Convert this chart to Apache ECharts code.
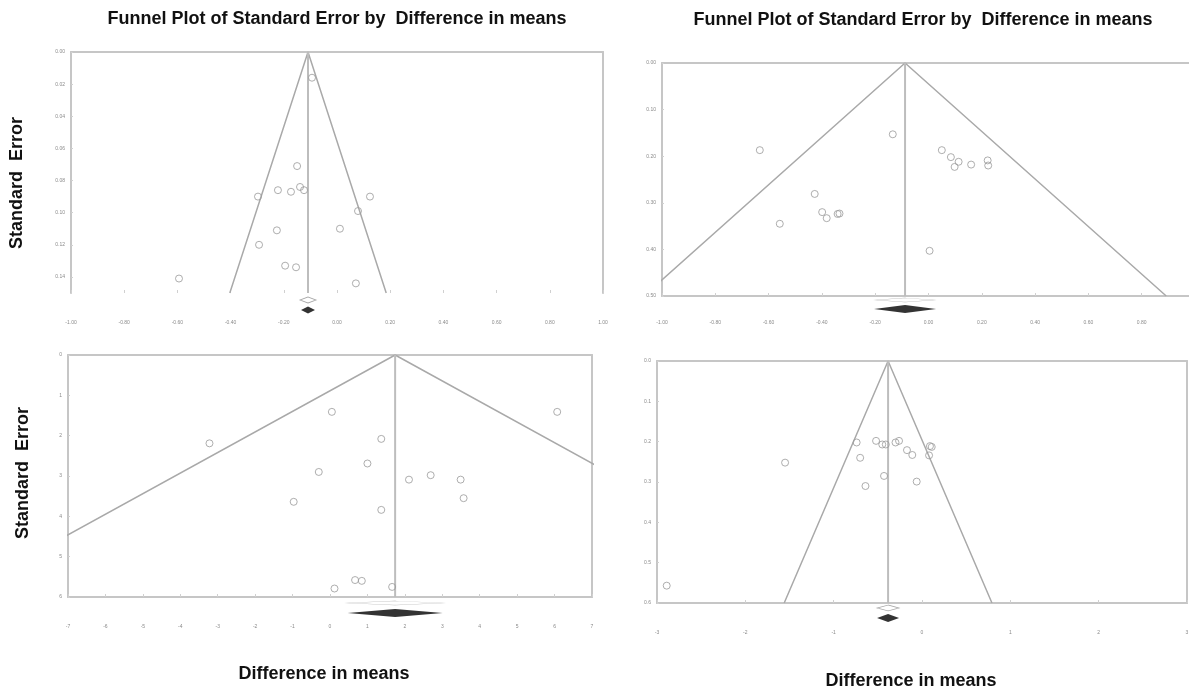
<!DOCTYPE html>
<html>
<head>
<meta charset="utf-8">
<title>Funnel plots</title>
<script src="https://cdn.jsdelivr.net/npm/echarts@6/dist/echarts.min.js"></script>
<style>
    html, body { margin: 0; padding: 0; background: #fff; }
    #chart { width: 1189px; height: 687px; }
</style>
</head>
<body>
<div id="chart"></div>
<script>
var titleText = 'Funnel Plot of Standard Error by  Difference in means';
var yTitle = 'Standard  Error';
var xTitle = 'Difference in means';

// top left
var diffA = [-0.094, -0.150, -0.222, -0.173, -0.139, -0.124, -0.297, 0.124, 0.079, 0.011, -0.226, -0.293, -0.195, -0.154, -0.594, 0.071];
var seA = [0.016, 0.071, 0.086, 0.087, 0.084, 0.086, 0.090, 0.090, 0.099, 0.110, 0.111, 0.120, 0.133, 0.134, 0.141, 0.144];
var pooledA = -0.109;
var xTicksA = [-1, 1, 0.2];
var seTicksA = [0, 0.15, 0.02];

// top right
var diffB = [-0.633, -0.134, 0.050, 0.084, 0.113, 0.098, 0.160, 0.222, 0.224, -0.427, -0.399, -0.382, -0.334, -0.341, -0.558, 0.004];
var seB = [0.187, 0.153, 0.187, 0.202, 0.212, 0.223, 0.218, 0.209, 0.220, 0.281, 0.320, 0.333, 0.323, 0.324, 0.345, 0.403];
var pooledB = -0.088;
var xTicksB = [-1, 1, 0.2];
var seTicksB = [0, 0.5, 0.1];

// bottom left
var diffC = [-3.22, 0.05, 6.07, 1.37, 1.00, -0.30, 2.11, 2.69, 3.49, 3.57, -0.97, 1.37, 0.67, 0.85, 0.12, 1.66];
var seC = [2.19, 1.41, 1.41, 2.08, 2.69, 2.90, 3.09, 2.98, 3.09, 3.55, 3.64, 3.84, 5.58, 5.60, 5.79, 5.75];
var pooledC = 1.74;
var xTicksC = [-7, 7, 1];
var seTicksC = [0, 6, 1];

// bottom right
var diffD = [-2.89, -1.55, -0.74, -0.70, -0.52, -0.45, -0.41, -0.30, -0.26, -0.17, -0.11, 0.09, 0.11, 0.08, -0.43, -0.64, -0.06];
var seD = [0.557, 0.252, 0.202, 0.240, 0.198, 0.207, 0.207, 0.202, 0.198, 0.221, 0.233, 0.211, 0.213, 0.234, 0.285, 0.310, 0.299];
var pooledD = -0.384;
var xTicksD = [-3, 3, 1];
var seTicksD = [0, 0.6, 0.1];

var boxColor = '#c6c6c6';
var fontFam = '"Liberation Sans", Arial, sans-serif';

var panels = [
    {diff: diffA, se: seA, pooled: pooledA, xt: xTicksA, yt: seTicksA, xDec: 2, yDec: 2,
     grid: {left: 71, top: 52, width: 532, height: 241}, bottomLine: false,
     xMargin: 27, openD: [16, 6, 7], fillD: [14, 7, 17]},
    {diff: diffB, se: seB, pooled: pooledB, xt: xTicksB, yt: seTicksB, xDec: 2, yDec: 2,
     grid: {left: 662, top: 63, width: 533, height: 233}, bottomLine: true,
     xMargin: 24, openD: [58, 4, 4], fillD: [62, 8, 13]},
    {diff: diffC, se: seC, pooled: pooledC, xt: xTicksC, yt: seTicksC, xDec: 0, yDec: 0,
     grid: {left: 68, top: 355, width: 524, height: 242}, bottomLine: true,
     xMargin: 27, openD: [95, 4, 6], fillD: [95, 8, 16]},
    {diff: diffD, se: seD, pooled: pooledD, xt: xTicksD, yt: seTicksD, xDec: 0, yDec: 1,
     grid: {left: 657, top: 361, width: 530, height: 242}, bottomLine: true,
     xMargin: 27, openD: [22, 6, 5], fillD: [22, 8, 15]}
];

var grids = [], xAxes = [], yAxes = [], series = [];

panels.forEach(function (p, i) {
    var g = p.grid;
    grids.push({left: g.left, top: g.top, width: g.width, height: g.height,
        containLabel: false, outerBoundsMode: 'none', show: false});

    var tinyLabel = {fontSize: 5, color: '#8a8a8a', fontFamily: fontFam};
    var steps = p.yt[1] / p.yt[2];
    xAxes.push({
        gridIndex: i, type: 'value', position: 'bottom',
        min: p.xt[0], max: p.xt[1], interval: p.xt[2],
        axisLine: {show: p.bottomLine, onZero: false, lineStyle: {color: boxColor, width: 2}},
        axisTick: {show: true, length: 3, inside: true, lineStyle: {color: '#d0d0d0'}},
        axisLabel: Object.assign({margin: p.xMargin, formatter: function (v) { return v.toFixed(p.xDec); }}, tinyLabel),
        splitLine: {show: false}
    });
    // top border of the box
    xAxes.push({
        gridIndex: i, type: 'value', position: 'top', min: 0, max: 1,
        axisLine: {show: true, onZero: false, lineStyle: {color: boxColor, width: 2}},
        axisTick: {show: false}, axisLabel: {show: false}, splitLine: {show: false}
    });
    yAxes.push({
        gridIndex: i, type: 'value', position: 'left', inverse: true,
        min: p.yt[0], max: p.yt[1], interval: p.yt[2],
        axisLine: {show: true, onZero: false, lineStyle: {color: boxColor, width: 2}},
        axisTick: {show: true, length: 2, inside: true, lineStyle: {color: '#d0d0d0'}},
        axisLabel: Object.assign({margin: 6, showMaxLabel: Math.abs(steps - Math.round(steps)) < 1e-6,
            formatter: function (v) { return v.toFixed(p.yDec); }}, tinyLabel),
        splitLine: {show: false}
    });
    // right border of the box
    yAxes.push({
        gridIndex: i, type: 'value', position: 'right', min: 0, max: 1,
        axisLine: {show: true, onZero: false, lineStyle: {color: boxColor, width: 2}},
        axisTick: {show: false}, axisLabel: {show: false}, splitLine: {show: false}
    });

    var xi = 2 * i, yi = 2 * i;
    var seMax = p.yt[1];
    var half = 1.96 * seMax;

    series.push({
        type: 'line', xAxisIndex: xi, yAxisIndex: yi, clip: true, silent: true,
        symbol: 'none', z: 2,
        lineStyle: {color: '#a9a9a9', width: 1.5},
        data: [[p.pooled - half, seMax], [p.pooled, 0], [p.pooled + half, seMax]]
    });
    series.push({
        type: 'line', xAxisIndex: xi, yAxisIndex: yi, silent: true,
        symbol: 'none', z: 2,
        lineStyle: {color: '#bdbdbd', width: 2},
        data: [[p.pooled, 0], [p.pooled, seMax]]
    });
    series.push({
        type: 'scatter', xAxisIndex: xi, yAxisIndex: yi, silent: true, z: 4,
        symbol: 'circle', symbolSize: 7,
        itemStyle: {color: 'rgba(255,255,255,0)', borderColor: '#9a9a9a', borderWidth: 1},
        data: p.diff.map(function (d, k) { return [d, p.se[k]]; })
    });
    // summary diamonds under the axis
    series.push({
        type: 'scatter', xAxisIndex: xi, yAxisIndex: yi, silent: true, clip: false, z: 5,
        symbol: 'diamond', symbolSize: [p.openD[0], p.openD[1]], symbolOffset: [0, p.openD[2]],
        itemStyle: {color: '#fff', borderColor: '#8f8f8f', borderWidth: 1},
        data: [[p.pooled, seMax]]
    });
    series.push({
        type: 'scatter', xAxisIndex: xi, yAxisIndex: yi, silent: true, clip: false, z: 5,
        symbol: 'diamond', symbolSize: [p.fillD[0], p.fillD[1]], symbolOffset: [0, p.fillD[2]],
        itemStyle: {color: '#000'},
        data: [[p.pooled, seMax]]
    });
});

var boldFont = 'bold 18px ' + fontFam;
function txt(text, x, y, rot) {
    return {type: 'text', x: x, y: y, rotation: rot || 0, silent: true,
        style: {text: text, font: boldFont, fill: '#111', align: 'center', verticalAlign: 'middle'}};
}

var chart = echarts.init(document.getElementById('chart'));
chart.setOption({
    animation: false,
    backgroundColor: '#fff',
    grid: grids,
    xAxis: xAxes,
    yAxis: yAxes,
    series: series,
    graphic: [
        txt(titleText, 337, 19),
        txt(titleText, 923, 20),
        txt(yTitle, 17, 183, Math.PI / 2),
        txt(yTitle, 23, 473, Math.PI / 2),
        txt(xTitle, 324, 674),
        txt(xTitle, 911, 681)
    ]
});
</script>
</body>
</html>
